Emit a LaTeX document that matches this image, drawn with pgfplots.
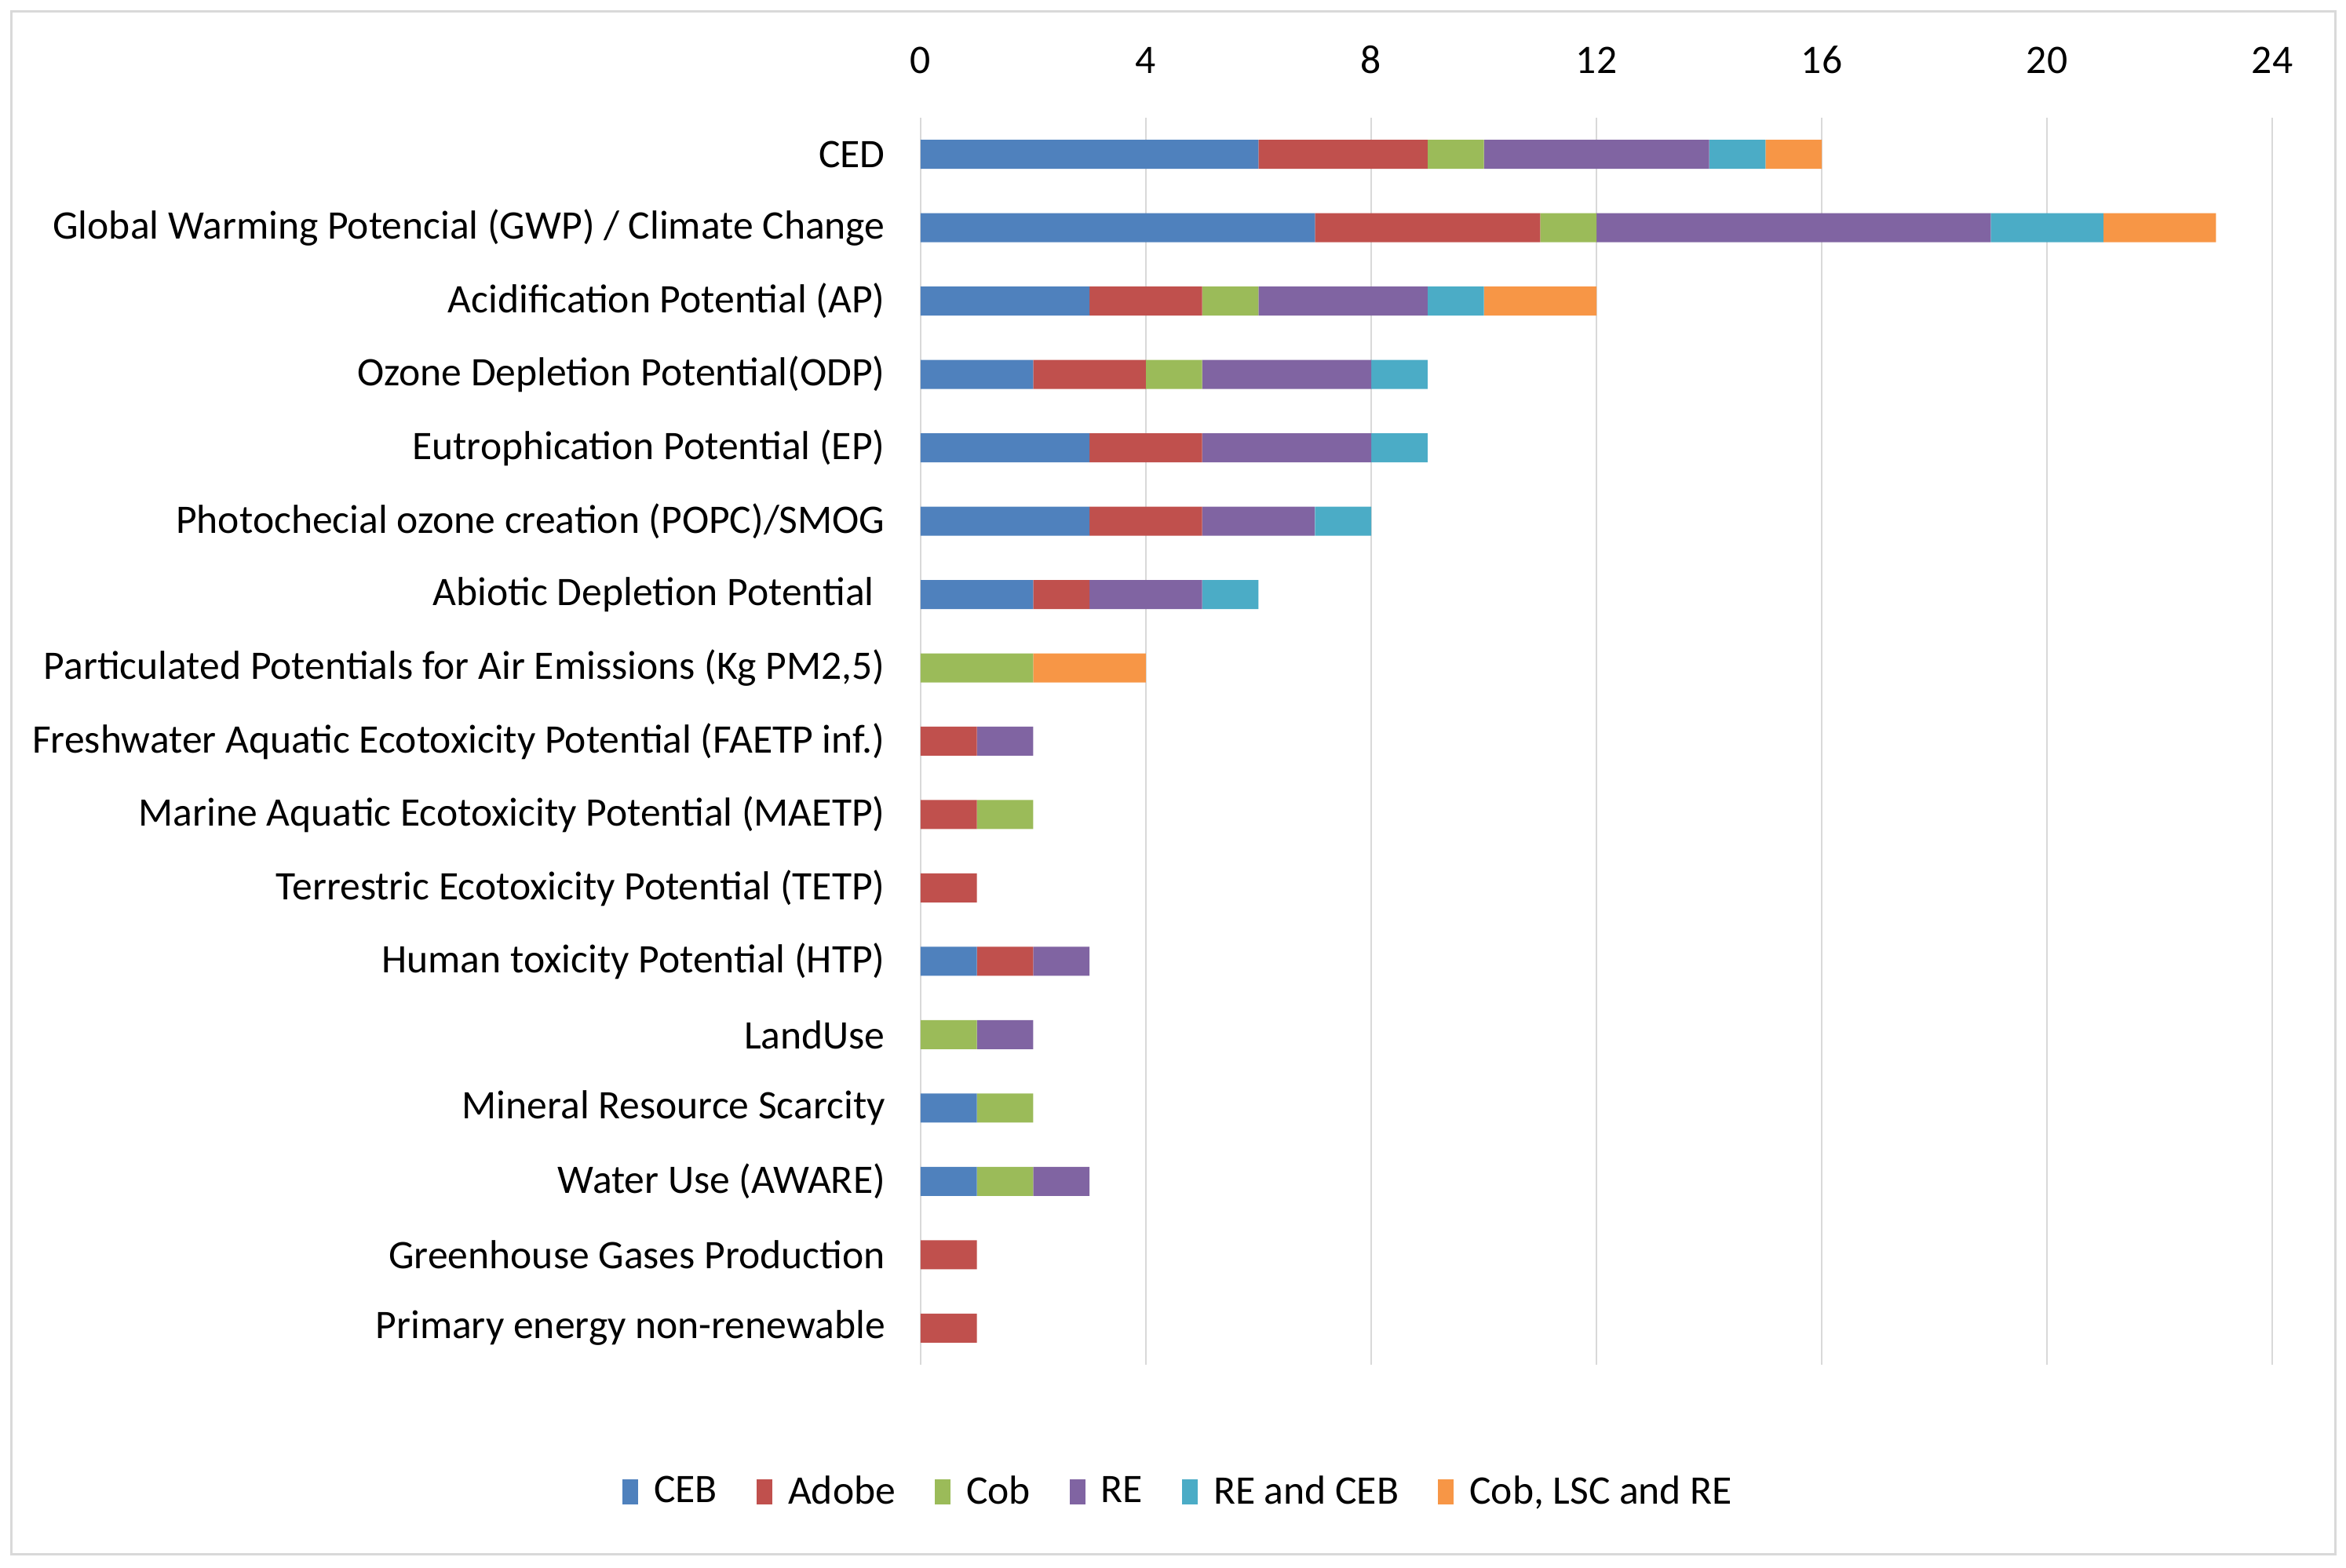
\documentclass[border=0pt]{standalone}
\usepackage{pgfplots}
\pgfplotsset{compat=1.18}
\usepackage{fontspec}
\setmainfont{Carlito}
\definecolor{cCEB}{HTML}{4F81BD}
\definecolor{cAdobe}{HTML}{C0504D}
\definecolor{cCob}{HTML}{9BBB59}
\definecolor{cRE}{HTML}{8064A2}
\definecolor{cRECEB}{HTML}{4BACC6}
\definecolor{cCLR}{HTML}{F79646}
\definecolor{gridgray}{HTML}{D9D9D9}
\begin{document}
\begin{tikzpicture}[x=1pt,y=1pt]
\path[use as bounding box] (0,0) rectangle (747.25,-499.5);
\draw[color=gridgray, line width=0.75pt] (3.5,-3.75) rectangle (743.75,-495);
\begin{axis}[
  at={(293.25pt,-434.75pt)}, anchor=south west,
  scale only axis, width=430.5pt, height=397.25pt,
  xbar stacked, bar width=9.25pt,
  xmin=0, xmax=24, xtick={0,4,...,24},
  ymin=-0.5, ymax=16.5,
  ytick={0,...,16},
  yticklabels={Primary energy non-renewable,Greenhouse Gases Production,Water Use (AWARE),Mineral Resource Scarcity,LandUse,Human toxicity Potential (HTP),Terrestric Ecotoxicity Potential (TETP),Marine Aquatic Ecotoxicity Potential (MAETP),Freshwater Aquatic Ecotoxicity Potential (FAETP inf.),{Particulated Potentials for Air Emissions (Kg PM2,5)},{Abiotic Depletion Potential\hbox to 3.5pt{}},Photochecial ozone creation (POPC)/SMOG,Eutrophication Potential (EP),Ozone Depletion Potential(ODP),Acidification Potential (AP),Global Warming Potencial (GWP) / Climate Change,CED},
  xticklabel pos=upper,
  axis line style={draw=none},
  major tick length=0pt,
  xmajorgrids, major grid style={color=gridgray, line width=0.6pt},
  ticklabel style={font=\fontsize{12.9pt}{15pt}\selectfont},
  xticklabel style={yshift=10.5pt},
  yticklabel style={xshift=-7.8pt},
  /pgf/number format/assume math mode=true,
  legend columns=-1,
  legend style={at={(0.19,-0.102)}, anchor=center, draw=none,
    font=\fontsize{12.9pt}{15pt}\selectfont,
    nodes={inner sep=0pt},
    /tikz/every odd column/.append style={column sep=5pt},
    /tikz/every even column/.append style={column sep=12.5pt}},
  mybar/.style={fill=#1, draw=none,
    legend image code/.code={\fill[#1] (0pt,-3.9pt) rectangle (5pt,3.9pt);}},
]
\addplot+[mybar=cCEB] coordinates {(0,0) (0,1) (1,2) (1,3) (0,4) (1,5) (0,6) (0,7) (0,8) (0,9) (2,10) (3,11) (3,12) (2,13) (3,14) (7,15) (6,16)};
\addlegendentry{CEB}
\addplot+[mybar=cAdobe] coordinates {(1,0) (1,1) (0,2) (0,3) (0,4) (1,5) (1,6) (1,7) (1,8) (0,9) (1,10) (2,11) (2,12) (2,13) (2,14) (4,15) (3,16)};
\addlegendentry{Adobe}
\addplot+[mybar=cCob] coordinates {(0,0) (0,1) (1,2) (1,3) (1,4) (0,5) (0,6) (1,7) (0,8) (2,9) (0,10) (0,11) (0,12) (1,13) (1,14) (1,15) (1,16)};
\addlegendentry{Cob}
\addplot+[mybar=cRE] coordinates {(0,0) (0,1) (1,2) (0,3) (1,4) (1,5) (0,6) (0,7) (1,8) (0,9) (2,10) (2,11) (3,12) (3,13) (3,14) (7,15) (4,16)};
\addlegendentry{RE}
\addplot+[mybar=cRECEB] coordinates {(0,0) (0,1) (0,2) (0,3) (0,4) (0,5) (0,6) (0,7) (0,8) (0,9) (1,10) (1,11) (1,12) (1,13) (1,14) (2,15) (1,16)};
\addlegendentry{RE and CEB}
\addplot+[mybar=cCLR] coordinates {(0,0) (0,1) (0,2) (0,3) (0,4) (0,5) (0,6) (0,7) (0,8) (2,9) (0,10) (0,11) (0,12) (0,13) (2,14) (2,15) (1,16)};
\addlegendentry{Cob, LSC and RE}
\end{axis}
\end{tikzpicture}
\end{document}
